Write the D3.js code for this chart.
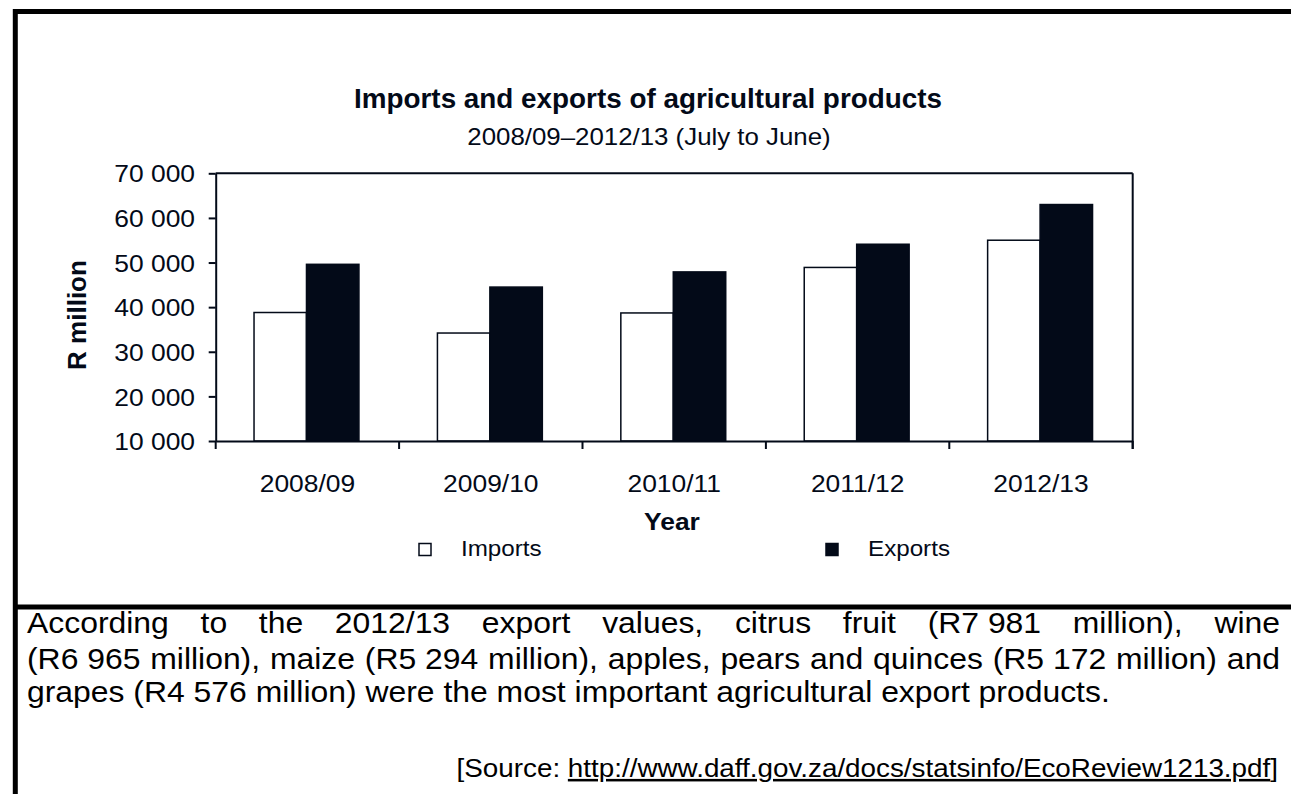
<!DOCTYPE html>
<html>
<head>
<meta charset="utf-8">
<script src="https://cdn.jsdelivr.net/npm/d3@7"></script>
<style>
  html, body { margin: 0; padding: 0; background: #fff; }
  svg { display: block; font-family: "Liberation Sans", Arial, sans-serif; }
</style>
</head>
<body>
<div id="app"></div>
<script>
// --- data ---
const years = ["2008/09", "2009/10", "2010/11", "2011/12", "2012/13"];
const series = ["Imports", "Exports"];
const imports = [38800, 34200, 38700, 48900, 55000];
const exports = [49600, 44500, 47900, 54100, 63000];
const yTicks = [10000, 20000, 30000, 40000, 50000, 60000, 70000];
const yTickLabels = ["10 000", "20 000", "30 000", "40 000", "50 000", "60 000", "70 000"];

const title = "Imports and exports of agricultural products";
const subtitle = "2008/09\u20132012/13 (July to June)";
const paraLines = [
    ["According", "to", "the", "2012/13", "export", "values,", "citrus", "fruit", "(R7\u00a0981", "million),", "wine"],
    ["(R6\u00a0965", "million),", "maize", "(R5\u00a0294", "million),", "apples,", "pears", "and", "quinces", "(R5\u00a0172", "million)", "and"],
    ["grapes (R4\u00a0576 million) were the most important agricultural export products."]
];
const sourceUrl = "http://www.daff.gov.za/docs/statsinfo/EcoReview1213.pdf";

const width = 1291, height = 794;
const SX = 1.1;          // the scan is stretched a little sideways
const ink = "#030a18";

const svg = d3.select("#app").append("svg")
    .attr("width", width).attr("height", height);

// --- outer frame ---
const frame = svg.append("g").attr("stroke", "#000").attr("stroke-width", 5);
frame.append("line").attr("x1", 13).attr("x2", width).attr("y1", 11.5).attr("y2", 11.5);
frame.append("line").attr("x1", 15.3).attr("x2", 15.3).attr("y1", 9).attr("y2", height);
frame.append("line").attr("x1", 13).attr("x2", width).attr("y1", 607).attr("y2", 607);

// --- titles ---
svg.append("text")
    .attr("x", 354).attr("y", 108)
    .attr("font-size", 28).attr("font-weight", "bold").attr("fill", ink)
    .attr("textLength", 588).attr("lengthAdjust", "spacingAndGlyphs")
    .text(title);

svg.append("text")
    .attr("transform", `translate(649,145) scale(${SX},1)`)
    .attr("text-anchor", "middle")
    .attr("font-size", 23.5).attr("fill", ink)
    .text(subtitle);

// --- chart ---
const plot = { left: 215.7, right: 1132.7, top: 173.3, bottom: 441 };

const x0 = d3.scaleBand().domain(years).range([plot.left, plot.right]);
const bw = x0.bandwidth();
const x1 = d3.scaleBand().domain(series).range([bw * 0.209, bw * 0.781]);
const y = d3.scaleLinear().domain([10000, 70000]).range([plot.bottom, plot.top]);

const rows = years.map((yr, i) => ({ year: yr, Imports: imports[i], Exports: exports[i] }));

const bars = svg.append("g");
rows.forEach(r => {
    series.forEach(s => {
        bars.append("rect")
            .attr("x", x0(r.year) + x1(s))
            .attr("y", y(r[s]))
            .attr("width", x1.bandwidth())
            .attr("height", y(10000) - y(r[s]))
            .attr("fill", s === "Imports" ? "#fff" : ink)
            .attr("stroke", ink)
            .attr("stroke-width", 1.5);
    });
});

// y axis
const yAxis = svg.append("g")
    .attr("transform", `translate(${plot.left},0)`)
    .call(d3.axisLeft(y).tickValues(yTicks).tickSize(7).tickSizeOuter(0)
        .tickFormat((d, i) => yTickLabels[i]));
yAxis.select(".domain").attr("stroke", ink).attr("stroke-width", 2);
yAxis.selectAll(".tick line").attr("stroke", ink).attr("stroke-width", 2);
yAxis.selectAll(".tick text")
    .attr("x", -20.7 / SX).attr("dy", "0.36em")
    .attr("transform", `scale(${SX},1)`)
    .attr("font-size", 24).attr("font-family", null).attr("fill", ink);

// top and right of the plot box
svg.append("line")
    .attr("x1", plot.left).attr("x2", plot.right)
    .attr("y1", plot.top).attr("y2", plot.top)
    .attr("stroke", ink).attr("stroke-width", 2);
svg.append("line")
    .attr("x1", plot.right).attr("x2", plot.right)
    .attr("y1", plot.top).attr("y2", plot.bottom + 8)
    .attr("stroke", ink).attr("stroke-width", 2);

// x axis: labels on band centres, ticks on band edges
const xAxis = svg.append("g")
    .attr("transform", `translate(0,${plot.bottom})`)
    .call(d3.axisBottom(x0).tickSize(0).tickSizeOuter(0));
xAxis.select(".domain").attr("stroke", ink).attr("stroke-width", 2);
xAxis.selectAll(".tick text")
    .attr("y", 50.7).attr("dy", 0)
    .attr("transform", `scale(${SX},1)`)
    .attr("font-size", 24).attr("font-family", null).attr("fill", ink);
xAxis.selectAll(".edge")
    .data(years.map(d => x0(d)).concat([plot.right]))
    .join("line")
    .attr("x1", d => d).attr("x2", d => d)
    .attr("y1", 0).attr("y2", 8)
    .attr("stroke", ink).attr("stroke-width", 2);

// axis titles
svg.append("text")
    .attr("transform", `translate(86,315) rotate(-90)`)
    .attr("text-anchor", "middle")
    .attr("font-size", 26).attr("font-weight", "bold").attr("fill", ink)
    .text("R million");

svg.append("text")
    .attr("transform", `translate(672,530) scale(${SX},1)`)
    .attr("text-anchor", "middle")
    .attr("font-size", 24).attr("font-weight", "bold").attr("fill", ink)
    .text("Year");

// legend
const legendX = [419, 826];
const legend = svg.append("g");
series.forEach((s, i) => {
    legend.append("rect")
        .attr("x", legendX[i]).attr("y", 543.5)
        .attr("width", 12).attr("height", 12)
        .attr("fill", s === "Imports" ? "#fff" : ink)
        .attr("stroke", ink).attr("stroke-width", 1.5);
    legend.append("text")
        .attr("transform", `translate(${legendX[i] + 42},556) scale(${SX},1)`)
        .attr("font-size", 22).attr("fill", ink)
        .text(s);
});

// --- paragraph under the chart (justified by hand) ---
const paraLeft = 27, paraRight = 1280;
const paraBase = [633, 669, 702];
const para = svg.append("g").attr("font-size", 29).attr("fill", "#000");
paraLines.forEach((words, li) => {
    const nodes = words.map(w => para.append("text").text(w));
    const widths = nodes.map(n => n.node().getComputedTextLength() * SX);
    const total = d3.sum(widths);
    const justify = li < paraLines.length - 1 && words.length > 1;
    const gap = justify ? (paraRight - paraLeft - total) / (words.length - 1) : 0;
    let cx = paraLeft;
    nodes.forEach((n, k) => {
        n.attr("transform", `translate(${cx},${paraBase[li]}) scale(${SX},1)`);
        cx += widths[k] + gap;
    });
});

// source line
const src = svg.append("text")
    .attr("transform", `translate(1278,777) scale(${SX},1)`)
    .attr("text-anchor", "end")
    .attr("font-size", 25.3).attr("fill", "#000");
src.append("tspan").text("[Source: ");
src.append("tspan").attr("text-decoration", "underline").text(sourceUrl);
src.append("tspan").text("]");
</script>
</body>
</html>
